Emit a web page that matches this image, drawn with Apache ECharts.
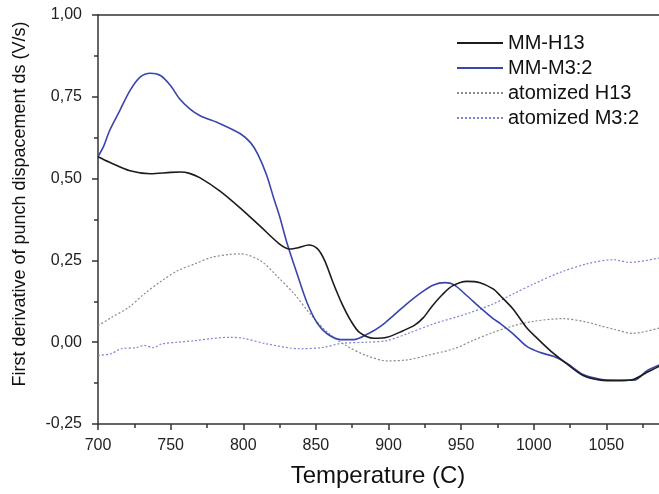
<!DOCTYPE html>
<html>
<head>
<meta charset="utf-8">
<script src="https://cdn.jsdelivr.net/npm/echarts@6/dist/echarts.min.js"></script>
<style>
html,body{margin:0;padding:0;background:#fff;}
#chart{width:659px;height:494px;}
</style>
</head>
<body>
<div id="chart"></div>
<script>
// ---- data ----
const seriesNames = ['MM-H13', 'MM-M3:2', 'atomized H13', 'atomized M3:2'];

const h13T = [700,708,722,736,750,757,763,770,784,798,812,825,832,838,845,851,856,862,868,874,880,890,899,910,918,924,930,937,944,954,963,972,977,986,995,1004,1014,1023,1034,1046,1057,1069,1078,1087];
const h13V = [0.567,0.550,0.524,0.515,0.519,0.520,0.516,0.503,0.462,0.410,0.353,0.300,0.285,0.289,0.297,0.286,0.250,0.180,0.117,0.066,0.030,0.012,0.015,0.035,0.052,0.075,0.110,0.145,0.172,0.186,0.182,0.163,0.142,0.100,0.045,0.005,-0.036,-0.067,-0.102,-0.116,-0.118,-0.113,-0.092,-0.072];

const m32T = [700,704,708,715,722,729,736,743,750,756,763,770,784,798,805,810,816,821,825,830,837,844,851,858,867,876,886,895,903,912,922,931,939,945,954,963,972,977,986,995,1004,1014,1023,1034,1046,1057,1069,1078,1087];
const m32V = [0.567,0.600,0.647,0.708,0.769,0.810,0.822,0.815,0.784,0.745,0.714,0.693,0.668,0.637,0.610,0.575,0.512,0.440,0.385,0.305,0.210,0.120,0.058,0.025,0.008,0.008,0.026,0.050,0.080,0.115,0.150,0.175,0.182,0.176,0.142,0.106,0.072,0.057,0.025,-0.012,-0.031,-0.044,-0.065,-0.099,-0.113,-0.116,-0.116,-0.087,-0.069];

const atH13T = [700,709,721,732,744,755,767,778,790,798,812,823,835,846,858,871,885,899,913,926,945,958,972,986,1000,1020,1037,1046,1055,1068,1087];
const atH13V = [0.050,0.075,0.106,0.148,0.188,0.219,0.240,0.259,0.268,0.270,0.249,0.203,0.148,0.087,0.030,-0.011,-0.041,-0.057,-0.054,-0.041,-0.020,0.005,0.030,0.050,0.064,0.072,0.061,0.050,0.040,0.027,0.044];

const atM32T = [700,709,716,726,732,738,744,755,767,778,790,800,816,839,855,867,885,899,913,931,954,972,986,1000,1018,1037,1055,1066,1087];
const atM32V = [-0.041,-0.035,-0.020,-0.017,-0.010,-0.017,-0.005,0.000,0.005,0.011,0.015,0.012,-0.005,-0.020,-0.016,-0.004,0.000,0.005,0.026,0.056,0.087,0.117,0.148,0.178,0.213,0.240,0.252,0.244,0.258];

const xTicks = [700,750,800,850,900,950,1000,1050];
const yTicks = [-0.25,0,0.25,0.5,0.75,1.0];

function zip(t, v) { return t.map((x, i) => [x, v[i]]); }

const FONT = '"Liberation Sans", Arial, Helvetica, sans-serif';
const chart = echarts.init(document.getElementById('chart'), null, {renderer: 'canvas'});

chart.setOption({
  backgroundColor: '#ffffff',
  animation: false,
  grid: {left: 98, width: 581, top: 15, bottom: 70, containLabel: false, outerBoundsMode: 'none'},
  legend: {
    orient: 'vertical',
    left: 456, top: 33, padding: 0,
    itemWidth: 46, itemHeight: 20, itemGap: 5,
    itemStyle: {color: 'rgba(0,0,0,0)', borderColor: 'rgba(0,0,0,0)', borderWidth: 0, opacity: 0},
    textStyle: {fontSize: 20, color: '#111', fontFamily: FONT},
    data: seriesNames
  },
  xAxis: [{
    type: 'value', min: 700, max: 1100, interval: 50,
    axisLine: {show: true, onZero: false, lineStyle: {color: '#333', width: 1.5}},
    axisTick: {show: true, inside: false, length: 6, lineStyle: {color: '#333', width: 1.5}},
    minorTick: {show: true, splitNumber: 2, length: 4, lineStyle: {color: '#333', width: 1.5}},
    axisLabel: {fontSize: 16, color: '#222', fontFamily: FONT, margin: 14,
      formatter: v => (xTicks.indexOf(v) >= 0 ? String(v) : '')},
    splitLine: {show: false}
  }, {
    type: 'value', position: 'top', min: 700, max: 1100,
    axisLine: {show: true, onZero: false, lineStyle: {color: '#333', width: 1.5}},
    axisTick: {show: false}, axisLabel: {show: false}, splitLine: {show: false}
  }],
  yAxis: {
    type: 'value', min: -0.25, max: 1.0, interval: 0.25,
    axisLine: {show: true, onZero: false, lineStyle: {color: '#333', width: 1.5}},
    axisTick: {show: true, inside: false, length: 6, lineStyle: {color: '#333', width: 1.5}},
    minorTick: {show: true, splitNumber: 2, length: 4, lineStyle: {color: '#333', width: 1.5}},
    axisLabel: {fontSize: 16, color: '#222', fontFamily: FONT, margin: 16,
      formatter: v => (yTicks.indexOf(v) >= 0 ? v.toFixed(2).replace('.', ',') : '')},
    splitLine: {show: false}
  },
  graphic: [{
    type: 'text',
    x: 20, y: 204,
    rotation: Math.PI / 2,
    style: {
      text: 'First derivative of punch dispacement ds (V/s)',
      fontSize: 18, fontFamily: FONT, fill: '#111',
      align: 'center', verticalAlign: 'middle'
    }
  }, {
    type: 'text',
    x: 378, y: 476,
    style: {
      text: 'Temperature (C)',
      fontSize: 24, fontFamily: FONT, fill: '#111',
      align: 'center', verticalAlign: 'middle'
    }
  }],
  series: [
    {name: seriesNames[0], type: 'line', data: zip(h13T, h13V), symbol: 'none', smooth: 0.3,
      lineStyle: {color: '#1c1c1c', width: 1.6}, itemStyle: {color: '#1c1c1c'}, z: 4},
    {name: seriesNames[1], type: 'line', data: zip(m32T, m32V), symbol: 'none', smooth: 0.3,
      lineStyle: {color: '#3a45ad', width: 1.6}, itemStyle: {color: '#3a45ad'}, z: 3},
    {name: seriesNames[2], type: 'line', data: zip(atH13T, atH13V), symbol: 'none', smooth: 0.3,
      lineStyle: {color: '#8a8a8a', width: 1.2, type: [2, 2]}, itemStyle: {color: '#8a8a8a'}, z: 2},
    {name: seriesNames[3], type: 'line', data: zip(atM32T, atM32V), symbol: 'none', smooth: 0.3,
      lineStyle: {color: '#7d84d8', width: 1.2, type: [2, 2]}, itemStyle: {color: '#7d84d8'}, z: 2}
  ]
});
</script>
</body>
</html>
